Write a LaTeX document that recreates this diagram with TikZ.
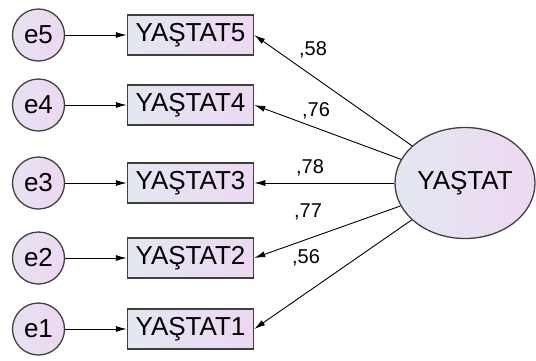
\documentclass[tikz,border=0pt]{standalone}
\usepackage{fontspec}
\setmainfont{Liberation Sans}
\usetikzlibrary{arrows.meta,shapes.geometric}
\definecolor{fillA}{HTML}{E3E7F0}
\definecolor{fillB}{HTML}{EDD8F2}
\definecolor{edge}{HTML}{404040}
\tikzset{
  obs/.style={draw=edge, line width=1.5pt, left color=fillA, right color=fillB,
    minimum width=126pt, minimum height=40pt, inner sep=0pt, font=\fontsize{26}{26}\selectfont},
  err/.style={circle, draw=edge, line width=1.3pt, left color=fillA!60!fillB, right color=fillB,
    minimum size=52pt, inner sep=0pt, font=\fontsize{26}{26}\selectfont},
  lat/.style={ellipse, draw=edge, line width=1.3pt, left color=fillA, right color=fillB,
    minimum width=140pt, minimum height=111pt, inner sep=0pt, font=\fontsize{26}{26}\selectfont},
  path/.style={-{Latex[length=11pt,width=6pt]}, line width=0.9pt, black},
  coef/.style={font=\fontsize{20}{20}\selectfont, inner sep=0pt}
}
\begin{document}
\begin{tikzpicture}[x=1pt,y=-1pt]
\useasboundingbox (0,0) rectangle (536,360);
% latent factor
\node[lat] (L) at (465,183) {YAŞTAT};
% indicators and their error terms
\foreach \i/\y in {5/35,4/105,3/183,2/258,1/329}{
  \node[obs] (r\i) at (190.5,\y) {YAŞTAT\i};
  \node[err] (e\i) at (38.5,\y) {e\i};
  \draw[path] (e\i) -- (r\i);
}
% factor loadings
\draw[path] (L) -- (r5.east);
\draw[path] (L) -- (r4.east);
\draw[path] (L) -- (r3.east);
\draw[path] (L) -- (r2.east);
\draw[path] (L) -- (r1.east);
\node[coef] (c5) at (313,50) {,58};
\node[coef] (c4) at (316,111) {,76};
\node[coef] (c3) at (310,168) {,78};
\node[coef] (c2) at (308,212) {,77};
\node[coef] (c1) at (306,258) {,56};
\end{tikzpicture}
\end{document}
